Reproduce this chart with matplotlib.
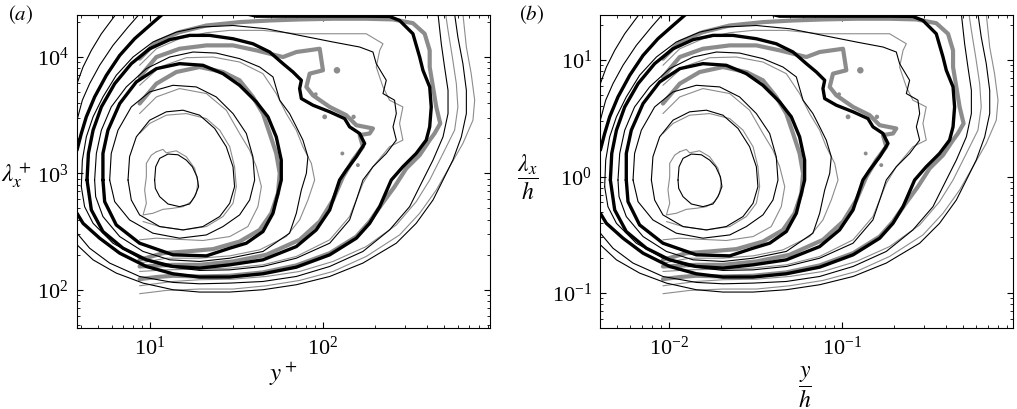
import numpy as np
import matplotlib
matplotlib.use("Agg")
import matplotlib.pyplot as plt

plt.rcParams['font.family'] = ['Liberation Serif', 'DejaVu Serif']
plt.rcParams['mathtext.fontset'] = 'stix'

RE_TAU = 940.0

# contour paths, as (log10 y+, log10 lambda_x+)
# --- set A (black) ---
a1_up = [(0.578, 3.771), (0.613, 3.914), (0.661, 4.057), (0.719, 4.200), (0.776, 4.314), (0.805, 4.371)]
a1_lo = [(0.578, 2.386), (0.671, 2.257), (0.805, 2.143), (0.960, 2.057), (1.133, 2.000), (1.287, 1.980),
         (1.461, 1.980), (1.653, 2.000), (1.846, 2.043), (2.039, 2.114), (2.231, 2.229), (2.424, 2.400),
         (2.539, 2.571), (2.636, 2.771), (2.694, 2.943), (2.751, 3.114), (2.800, 3.314), (2.829, 3.514),
         (2.829, 3.714), (2.809, 3.943), (2.780, 4.171), (2.761, 4.371)]
a2_up = [(0.578, 3.457), (0.609, 3.629), (0.651, 3.771), (0.709, 3.929), (0.786, 4.100), (0.873, 4.257), (0.940, 4.371)]
a2_lo = [(0.578, 2.486), (0.651, 2.357), (0.767, 2.229), (0.940, 2.114), (1.133, 2.063), (1.287, 2.051),
         (1.461, 2.057), (1.653, 2.071), (1.846, 2.114), (2.039, 2.200), (2.231, 2.329), (2.385, 2.514),
         (2.501, 2.714), (2.578, 2.943), (2.636, 3.114), (2.694, 3.314), (2.723, 3.514), (2.723, 3.714),
         (2.703, 3.914), (2.684, 4.114), (2.665, 4.371)]
outer_up = [(0.578, 3.200), (0.603, 3.343), (0.632, 3.486), (0.680, 3.657), (0.748, 3.843), (0.825, 4.014),
            (0.911, 4.157), (0.998, 4.271), (1.075, 4.371)]
outer_lo = [(0.578, 2.657), (0.613, 2.571), (0.709, 2.443), (0.825, 2.314), (0.979, 2.200), (1.133, 2.137),
            (1.287, 2.109), (1.461, 2.109), (1.653, 2.137), (1.846, 2.194), (2.039, 2.300), (2.193, 2.443),
            (2.270, 2.571), (2.328, 2.714), (2.395, 2.943), (2.462, 3.057), (2.539, 3.171), (2.597, 3.286),
            (2.617, 3.400), (2.626, 3.571), (2.617, 3.743), (2.578, 3.886), (2.559, 4.000), (2.520, 4.200),
            (2.443, 4.314), (2.385, 4.349), (2.250, 4.351), (2.058, 4.351), (1.865, 4.351), (1.615, 4.351),
            (1.557, 4.371)]
a4 = [(0.603, 2.886), (0.609, 3.114), (0.632, 3.314), (0.671, 3.486), (0.728, 3.657), (0.805, 3.843),
      (0.902, 4.000), (1.017, 4.129), (1.152, 4.214), (1.287, 4.257), (1.480, 4.271), (1.672, 4.243),
      (1.865, 4.186), (2.058, 4.129), (2.212, 4.086), (2.289, 4.043), (2.308, 3.943), (2.366, 3.800),
      (2.347, 3.686), (2.414, 3.629), (2.424, 3.514), (2.405, 3.400), (2.424, 3.286), (2.366, 3.171),
      (2.289, 3.057), (2.231, 2.943), (2.193, 2.771), (2.154, 2.600), (2.039, 2.400), (1.846, 2.271),
      (1.653, 2.200), (1.461, 2.171), (1.287, 2.166), (1.094, 2.200), (0.940, 2.271), (0.786, 2.400),
      (0.671, 2.571), (0.622, 2.714), (0.603, 2.886)]
mid = [(0.636, 2.943), (0.644, 3.171), (0.671, 3.371), (0.719, 3.571), (0.796, 3.771), (0.892, 3.943),
       (0.998, 4.071), (1.114, 4.149), (1.229, 4.186), (1.345, 4.186), (1.480, 4.157), (1.595, 4.114),
       (1.692, 4.043), (1.769, 3.943), (1.827, 3.871), (1.875, 3.800), (1.865, 3.729), (1.875, 3.643),
       (1.942, 3.586), (2.039, 3.529), (2.125, 3.471), (2.154, 3.400), (2.212, 3.343), (2.241, 3.257),
       (2.193, 3.143), (2.135, 3.029), (2.096, 2.943), (2.039, 2.686), (1.961, 2.514), (1.846, 2.371),
       (1.653, 2.257), (1.461, 2.214), (1.287, 2.186), (1.133, 2.200), (0.979, 2.257), (0.844, 2.357),
       (0.728, 2.500), (0.661, 2.686), (0.636, 2.943)]
a7 = [(0.680, 2.943), (0.690, 3.171), (0.719, 3.371), (0.776, 3.571), (0.863, 3.743), (0.979, 3.900),
      (1.114, 4.000), (1.249, 4.043), (1.383, 4.034), (1.518, 3.986), (1.634, 3.914), (1.711, 3.829),
      (1.750, 3.629), (1.807, 3.514), (1.846, 3.400), (1.884, 3.286), (1.913, 3.143), (1.904, 3.000),
      (1.875, 2.857), (1.846, 2.657), (1.807, 2.486), (1.653, 2.329), (1.461, 2.271), (1.287, 2.243),
      (1.114, 2.257), (0.960, 2.329), (0.825, 2.457), (0.728, 2.629), (0.686, 2.800), (0.680, 2.943)]
inner = [(0.728, 2.943), (0.728, 3.171), (0.757, 3.371), (0.825, 3.600), (0.921, 3.786), (1.037, 3.900),
         (1.171, 3.943), (1.306, 3.929), (1.422, 3.857), (1.518, 3.757), (1.615, 3.614), (1.682, 3.486),
         (1.730, 3.314), (1.759, 3.114), (1.759, 2.943), (1.740, 2.829), (1.711, 2.657), (1.653, 2.500),
         (1.557, 2.400), (1.461, 2.357), (1.326, 2.291), (1.133, 2.300), (0.940, 2.400), (0.805, 2.557),
         (0.738, 2.757), (0.728, 2.943)]
a10 = [(0.767, 2.943), (0.776, 3.171), (0.815, 3.371), (0.892, 3.571), (0.998, 3.700), (1.133, 3.757),
       (1.268, 3.743), (1.383, 3.657), (1.480, 3.514), (1.557, 3.343), (1.595, 3.143), (1.605, 2.943),
       (1.576, 2.771), (1.518, 2.643), (1.422, 2.543), (1.326, 2.471), (1.171, 2.443), (1.017, 2.486),
       (0.882, 2.600), (0.796, 2.757), (0.767, 2.943)]
a11 = [(0.873, 2.943), (0.882, 3.143), (0.921, 3.314), (0.998, 3.457), (1.094, 3.529), (1.191, 3.543),
       (1.287, 3.500), (1.374, 3.386), (1.441, 3.229), (1.480, 3.057), (1.489, 2.886), (1.461, 2.743),
       (1.403, 2.629), (1.306, 2.543), (1.191, 2.514), (1.056, 2.543), (0.940, 2.643), (0.892, 2.771),
       (0.873, 2.943)]
a12 = [(1.027, 2.943), (1.033, 3.057), (1.056, 3.129), (1.104, 3.166), (1.162, 3.160), (1.210, 3.114),
       (1.245, 3.057), (1.272, 2.971), (1.281, 2.886), (1.258, 2.800), (1.229, 2.737), (1.171, 2.714),
       (1.104, 2.737), (1.056, 2.800), (1.031, 2.871), (1.027, 2.943)]

# --- set B (grey) ---
g1 = [(0.940, 1.966), (1.094, 1.994), (1.287, 2.006), (1.480, 2.006), (1.672, 2.034), (1.865, 2.080),
      (2.058, 2.157), (2.250, 2.286), (2.443, 2.471), (2.559, 2.657), (2.655, 2.857), (2.732, 3.057),
      (2.809, 3.257), (2.867, 3.457), (2.877, 3.629), (2.857, 3.857), (2.829, 4.086), (2.809, 4.371)]
g2 = [(0.940, 2.034), (1.133, 2.071), (1.287, 2.086), (1.480, 2.091), (1.672, 2.114), (1.865, 2.157),
      (2.058, 2.243), (2.250, 2.371), (2.424, 2.557), (2.539, 2.757), (2.617, 2.943), (2.694, 3.171),
      (2.761, 3.371), (2.780, 3.571), (2.771, 3.771), (2.748, 4.000), (2.723, 4.229), (2.709, 4.371)]
g_outer = [(0.940, 3.986), (1.037, 4.129), (1.171, 4.214), (1.326, 4.271), (1.518, 4.300), (1.692, 4.314),
           (1.865, 4.323), (2.058, 4.329), (2.250, 4.329), (2.405, 4.323), (2.520, 4.291), (2.588, 4.200),
           (2.617, 4.057), (2.617, 3.914), (2.636, 3.743), (2.655, 3.571), (2.678, 3.429), (2.645, 3.343),
           (2.617, 3.286), (2.559, 3.157), (2.482, 3.043), (2.414, 2.886), (2.337, 2.729), (2.270, 2.586),
           (2.193, 2.457), (2.039, 2.314), (1.846, 2.209), (1.653, 2.149), (1.461, 2.120), (1.287, 2.114),
           (1.133, 2.120), (1.037, 2.109), (0.940, 2.091)]
g4 = [(0.940, 3.929), (1.037, 4.071), (1.171, 4.157), (1.326, 4.209), (1.461, 4.229), (1.653, 4.229),
      (1.846, 4.200), (2.039, 4.200), (2.250, 4.200), (2.347, 4.114), (2.328, 4.057), (2.308, 3.914),
      (2.347, 3.743), (2.385, 3.629), (2.462, 3.571), (2.443, 3.429), (2.462, 3.286), (2.385, 3.229),
      (2.289, 3.057), (2.231, 2.914), (2.154, 2.629), (2.039, 2.429), (1.846, 2.286), (1.653, 2.214),
      (1.461, 2.186), (1.287, 2.177), (1.094, 2.171), (0.940, 2.157)]
g_mid = [(0.940, 3.829), (1.037, 4.000), (1.171, 4.071), (1.326, 4.100), (1.480, 4.100), (1.615, 4.057),
         (1.769, 4.000), (1.846, 4.043), (1.981, 4.071), (2.000, 3.886), (1.923, 3.857), (1.904, 3.743),
         (1.942, 3.671), (2.039, 3.571), (2.135, 3.500), (2.193, 3.414), (2.289, 3.386), (2.270, 3.343),
         (2.212, 3.329), (2.231, 3.229), (2.173, 3.114), (2.116, 2.971), (2.058, 2.771), (1.981, 2.586),
         (1.865, 2.429), (1.672, 2.300), (1.480, 2.243), (1.287, 2.214), (1.133, 2.214), (0.940, 2.200)]
g7 = [(0.940, 3.757), (1.056, 3.914), (1.210, 3.994), (1.364, 4.000), (1.518, 3.957), (1.653, 3.857),
      (1.730, 3.686), (1.788, 3.514), (1.846, 3.371), (1.884, 3.229), (1.933, 3.086), (1.952, 2.943),
      (1.913, 2.771), (1.865, 2.600), (1.788, 2.457), (1.634, 2.343), (1.461, 2.291), (1.287, 2.271),
      (1.094, 2.271), (0.940, 2.229)]
g_inner = [(0.940, 3.600), (1.037, 3.771), (1.152, 3.871), (1.287, 3.914), (1.422, 3.871), (1.518, 3.800),
           (1.595, 3.657), (1.653, 3.514), (1.692, 3.343), (1.730, 3.171), (1.750, 3.000), (1.740, 2.829),
           (1.701, 2.657), (1.634, 2.514), (1.518, 2.414), (1.364, 2.349), (1.210, 2.329), (1.075, 2.314),
           (0.940, 2.257)]
g10 = [(0.940, 3.514), (1.037, 3.657), (1.171, 3.729), (1.326, 3.686), (1.441, 3.543), (1.518, 3.343),
       (1.576, 3.200), (1.615, 3.057), (1.644, 2.886), (1.624, 2.714), (1.566, 2.543), (1.461, 2.457),
       (1.306, 2.423), (1.152, 2.434), (1.037, 2.443), (0.940, 2.429)]
g11 = [(0.940, 3.343), (0.998, 3.429), (1.094, 3.500), (1.210, 3.514), (1.326, 3.471), (1.403, 3.371),
       (1.461, 3.229), (1.489, 3.057), (1.499, 2.886), (1.480, 2.743), (1.422, 2.629), (1.326, 2.543),
       (1.191, 2.514), (1.056, 2.543), (0.960, 2.586)]
g12 = [(1.037, 3.186), (1.075, 3.206), (1.094, 3.177), (1.152, 3.194), (1.210, 3.143), (1.258, 3.043),
       (1.277, 2.929), (1.268, 2.829), (1.239, 2.757), (1.191, 2.714), (1.133, 2.700), (1.075, 2.691),
       (1.017, 2.657), (0.960, 2.643), (0.979, 2.743), (0.969, 2.857), (0.979, 2.971), (0.979, 3.086),
       (1.008, 3.157), (1.037, 3.186)]

# small isolated grey islands of set B
islands_x = [2.081, 1.958, 2.010, 2.177, 2.112, 2.202]
islands_y = [3.886, 3.680, 3.486, 3.486, 3.171, 3.071]
islands_s = [22, 8, 12, 10, 8, 8]

black_thick = [outer_up, outer_lo, mid, inner]
black_thin = [a1_up, a1_lo, a2_up, a2_lo, a4, a7, a10, a11, a12]
grey_thick = [g_outer, g_mid, g_inner]
grey_thin = [g1, g2, g4, g7, g10, g11, g12]

xlim_log = (0.578, 2.965)
ylim_log = (1.671, 4.360)


def draw(ax, scale):
    styles = [(grey_thick, '#8c8c8c', 3.0), (grey_thin, '#8c8c8c', 0.8),
              (black_thick, 'black', 2.4), (black_thin, 'black', 0.8)]
    for group, col, lw in styles:
        for c in group:
            p = np.array(c)
            ax.plot(10 ** p[:, 0] / scale, 10 ** p[:, 1] / scale, color=col, lw=lw,
                    solid_joinstyle='round', solid_capstyle='round')
    ax.scatter(10 ** np.array(islands_x) / scale, 10 ** np.array(islands_y) / scale,
               s=islands_s, color='#8c8c8c', lw=0, zorder=1)
    ax.set_xscale('log')
    ax.set_yscale('log')
    ax.set_xlim(10 ** xlim_log[0] / scale, 10 ** xlim_log[1] / scale)
    ax.set_ylim(10 ** ylim_log[0] / scale, 10 ** ylim_log[1] / scale)
    ax.tick_params(which='both', direction='in', top=True, right=True, labelsize=16)
    ax.tick_params(which='major', length=4.5, width=0.8, pad=6)
    ax.tick_params(which='minor', length=2.5, width=0.6)
    for s in ax.spines.values():
        s.set_linewidth(0.8)


fig = plt.figure(figsize=(10.17, 4.09), dpi=100)
ax1 = fig.add_axes([0.0757, 0.198, 0.406, 0.765])
ax2 = fig.add_axes([0.5903, 0.198, 0.406, 0.765])

draw(ax1, 1.0)
draw(ax2, RE_TAU)

fig.text(16 / 1017, 1 - 175 / 409, r'$\lambda_x^+$', fontsize=18, ha='center', va='center')
fig.text(283 / 1017, 1 - 374 / 409, r'$y^+$', fontsize=18, ha='center', va='center')
fig.text(528 / 1017, 1 - 177 / 409, r'$\dfrac{\lambda_x}{h}$', fontsize=17, ha='center', va='center')
fig.text(805 / 1017, 1 - 387 / 409, r'$\dfrac{y}{h}$', fontsize=17, ha='center', va='center')
fig.text(8 / 1017, 1 - 15 / 409, r'$(a)$', fontsize=15, ha='left', va='center')
fig.text(519 / 1017, 1 - 15 / 409, r'$(b)$', fontsize=15, ha='left', va='center')

fig.savefig('out.png', dpi=100)
